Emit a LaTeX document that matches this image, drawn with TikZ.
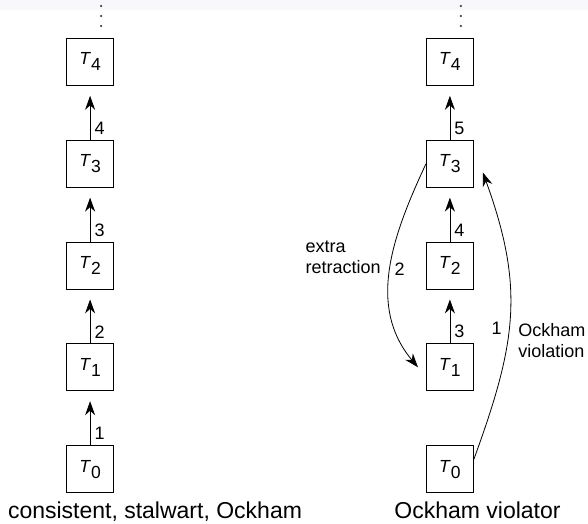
\documentclass[tikz,border=0pt]{standalone}
\usepackage{fontspec}
\setmainfont{Liberation Sans}
\usetikzlibrary{matrix,arrows.meta}

\definecolor{topband}{RGB}{248,248,252}
\newcommand{\theory}[1]{\textit{T}\raisebox{-6pt}{#1}}

\begin{document}
\begin{tikzpicture}[x=1pt,y=1pt,line width=0.8pt,
	box/.style={draw, minimum size=47pt, inner sep=0pt, font=\fontsize{17.5}{20}\selectfont},
	climb/.style={-{Stealth[length=14pt,width=10pt,inset=4.5pt]}, shorten >=10pt},
	swing/.style={-{Stealth[length=14pt,width=10pt,inset=4.5pt]}},
	num/.style={anchor=south west, inner sep=0pt, xshift=4pt, yshift=5pt, font=\fontsize{18}{21}\selectfont},
	lbl/.style={inner sep=4pt, font=\fontsize{18}{21}\selectfont},
	note/.style={inner sep=0pt, align=left, font=\fontsize{18}{21}\selectfont},
	caption/.style={inner sep=0pt, font=\fontsize{23}{27}\selectfont}]
	\useasboundingbox (0,0) rectangle (588,-523);
	\fill[topband] (0,0) rectangle (588,-10);
	\matrix (seq) [matrix of nodes, nodes={box}, row sep=54pt, column sep=312pt] at (270,-265.5)
	{%
		\theory{4} & \theory{4} \\
		\theory{3} & \theory{3} \\
		\theory{2} & \theory{2} \\
		\theory{1} & \theory{1} \\
		\theory{0} & \theory{0} \\
	};
	% more theories above
	\foreach \col in {1,2}
		\foreach \d in {12,22,32}
			\fill[black!75] ([xshift=11pt,yshift=\d pt]seq-1-\col.north) circle (1.2pt);
	% consistent, stalwart, Ockham
	\draw[climb] (seq-2-1.north) -- node[num, pos=0] (l14) {4} (seq-1-1.south);
	\draw[climb] (seq-3-1.north) -- node[num, pos=0] (l13) {3} (seq-2-1.south);
	\draw[climb] (seq-4-1.north) -- node[num, pos=0] (l12) {2} (seq-3-1.south);
	\draw[climb] (seq-5-1.north) -- node[num, pos=0] (l11) {1} (seq-4-1.south);
	% Ockham violator
	\draw[climb] (seq-2-2.north) -- node[num, pos=0] (l25) {5} (seq-1-2.south);
	\draw[climb] (seq-3-2.north) -- node[num, pos=0] (l24) {4} (seq-2-2.south);
	\draw[climb] (seq-4-2.north) -- node[num, pos=0] (l23) {3} (seq-3-2.south);
	\draw[swing] (seq-5-2.22) to[out=70, in=-70, looseness=1.1] node[lbl, pos=0.45, left, inner sep=7pt] (l21) {1} ([xshift=9pt]seq-2-2.-20);
	\draw[swing] (seq-2-2.west) to[out=245, in=130] node[lbl, right] (l22) {2} ([xshift=-8pt]seq-4-2.west);
	\node[note, anchor=east] (extra) at (381,-257) {extra\\retraction};
	\node[note, anchor=west] (viol) at (518,-341) {Ockham\\violation};
	\node[caption, anchor=base] (capL) at (155,-518) {consistent, stalwart, Ockham};
	\node[caption, anchor=base] (capR) at (477.5,-518) {Ockham violator};
\end{tikzpicture}
\end{document}
